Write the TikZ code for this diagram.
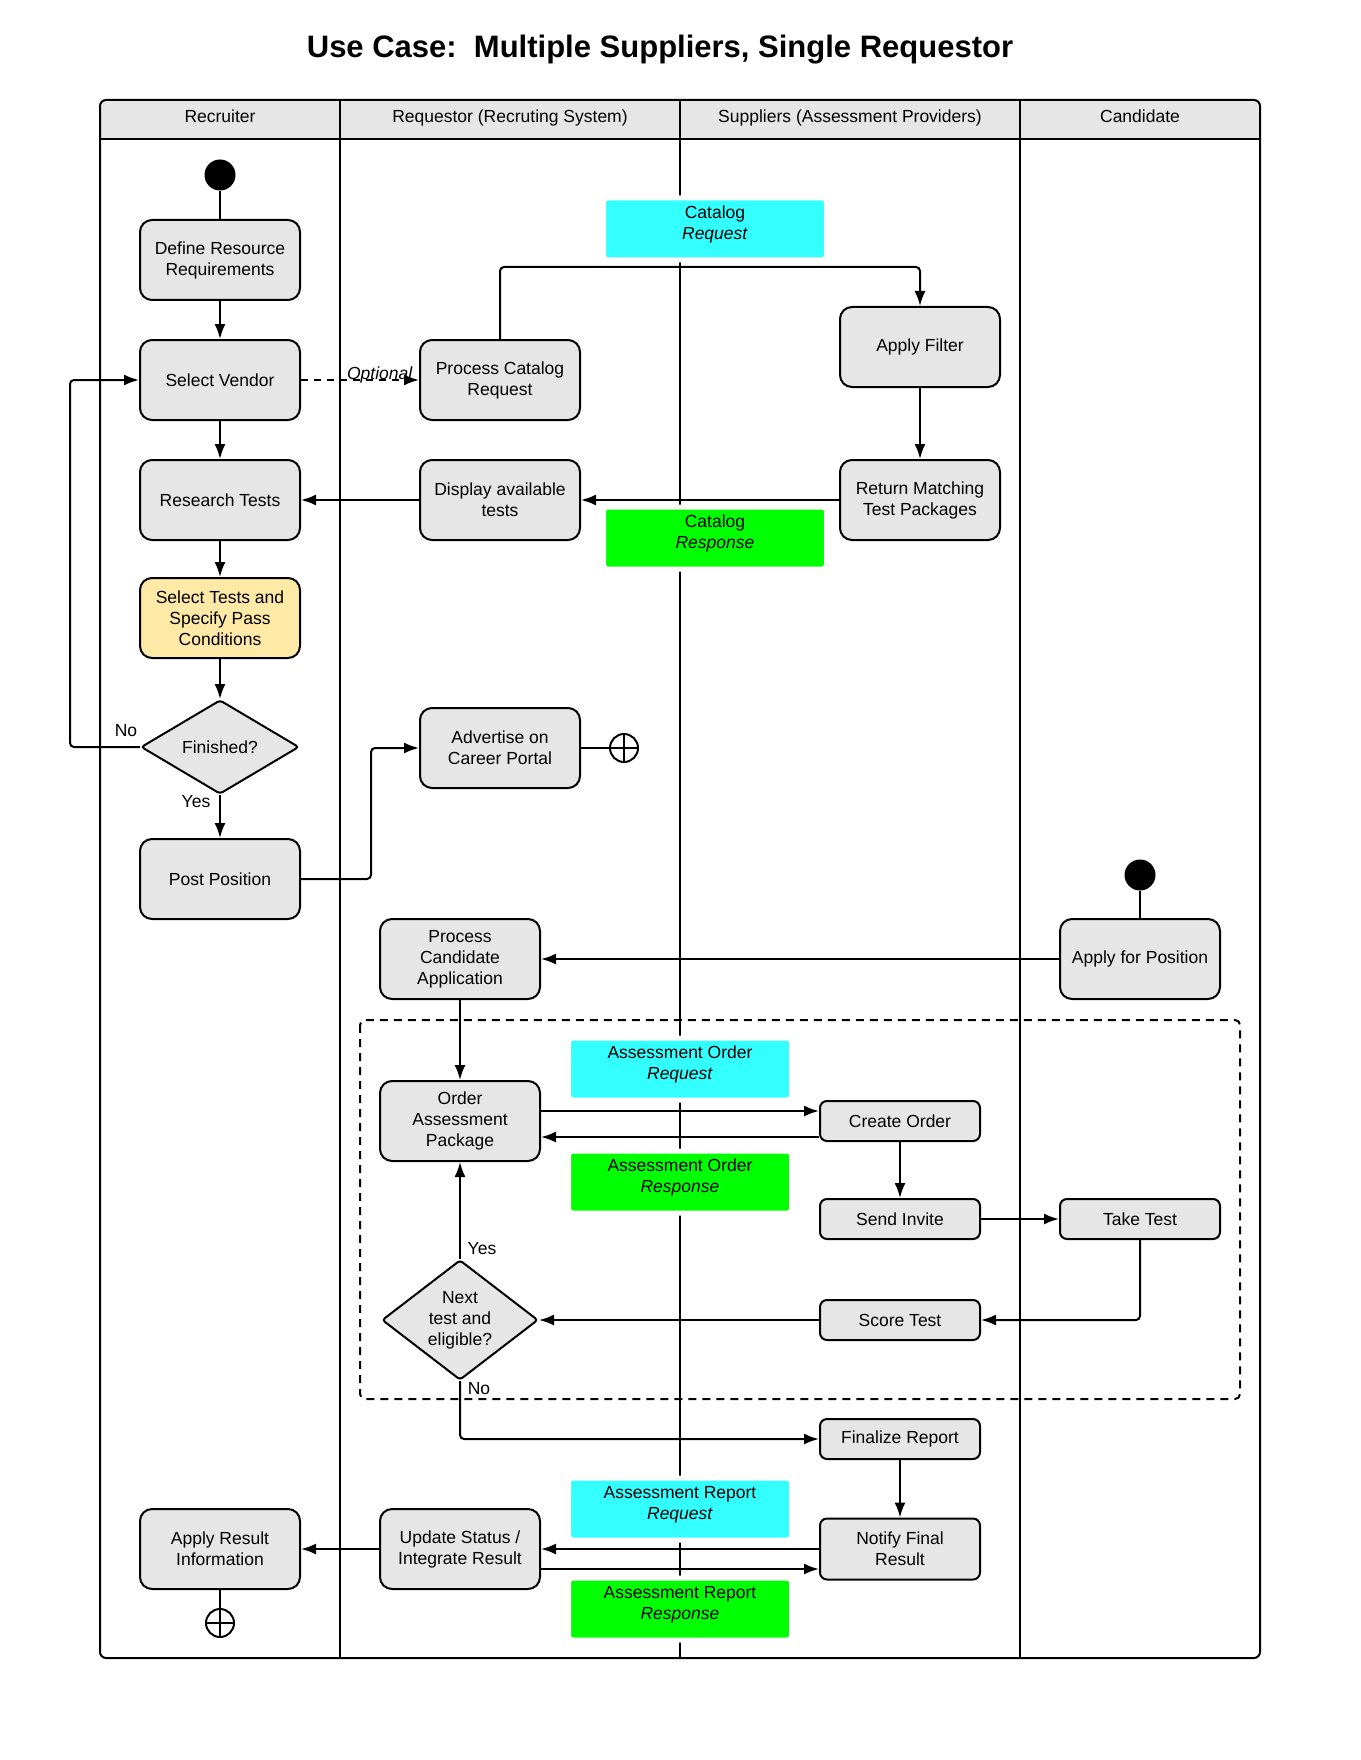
\documentclass[tikz,border=0pt]{standalone}
\usepackage{fontspec}
\setmainfont{Liberation Sans}
\usetikzlibrary{arrows.meta,shapes.geometric,calc}
\definecolor{boxgray}{HTML}{E6E6E6}
\definecolor{yellowbox}{HTML}{FFE9A6}
\definecolor{cyanbox}{HTML}{33FFFF}
\definecolor{greenbox}{HTML}{00FF00}
\newcommand\myfs{\fontsize{17.5pt}{21pt}\selectfont}
\begin{document}
\begin{tikzpicture}[x=1pt,y=-1pt,
  act/.style={rectangle, draw, line width=2pt, rounded corners=12pt, fill=boxgray,
    minimum width=160pt, minimum height=80pt, align=center, inner sep=3pt, font=\myfs},
  sact/.style={act, minimum height=40pt, rounded corners=7pt},
  dec/.style={diamond, draw, line width=2pt, fill=boxgray, align=center, inner sep=0pt,
    font=\myfs, rounded corners=3pt},
  msg/.style={rectangle, draw=white, line width=5pt, rounded corners=4pt,
    minimum width=223pt, minimum height=62pt, align=center, inner sep=2pt, font=\myfs,
    text depth=13pt},
  startdot/.style={circle, fill=black, minimum size=31pt, inner sep=0pt},
  enddot/.style={circle, draw, line width=2pt, fill=white, minimum size=28pt, inner sep=0pt},
  flow/.style={line width=2pt, -{Latex[length=15pt,width=11pt]}},
  conn/.style={line width=2pt},
  lbl/.style={font=\myfs, inner sep=1pt},
  lane/.style={line width=2pt},
  hdr/.style={font=\myfs, anchor=base}
]
\fill[white] (0,0) rectangle (1360,1760);
\useasboundingbox (0,0) rectangle (1360,1760);

% title
\node[font=\fontsize{31pt}{36pt}\selectfont\bfseries] (title) at (660,50)
  {Use Case:\ \ Multiple Suppliers, Single Requestor};

% pool and lanes
\fill[boxgray] (100,139) {[rounded corners=6pt] -- (100,100) -- (1260,100)} -- (1260,139) -- cycle;
\draw[lane, rounded corners=6pt] (100,100) rectangle (1260,1658);
\draw[line width=2.5pt] (100,139) -- (1260,139);
\draw[lane] (340,100) -- (340,1658);
\draw[lane] (680,100) -- (680,1658);
\draw[lane] (1020,100) -- (1020,1658);
\node[hdr] (h1) at (220,123) {Recruiter};
\node[hdr] (h2) at (510,123) {Requestor (Recruting System)};
\node[hdr] (h3) at (850,123) {Suppliers (Assessment Providers)};
\node[hdr] (h4) at (1140,123) {Candidate};

% dashed loop region
\draw[line width=2pt, dash pattern=on 8pt off 6pt, rounded corners=5pt] (360,1020) rectangle (1240,1399);

% message boxes
\node[msg, fill=cyanbox] (creq) at (715,229) {Catalog\\\textit{Request}};
\node[msg, fill=greenbox] (cres) at (715,538) {Catalog\\\textit{Response}};
\node[msg, fill=cyanbox] (aoreq) at (680,1069) {Assessment Order\\\textit{Request}};
\node[msg, fill=greenbox] (aores) at (680,1182) {Assessment Order\\\textit{Response}};
\node[msg, fill=cyanbox] (arreq) at (680,1509) {Assessment Report\\\textit{Request}};
\node[msg, fill=greenbox] (arres) at (680,1609) {Assessment Report\\\textit{Response}};

% recruiter lane
\node[startdot] (s1) at (220,175) {};
\node[act] (drr) at (220,260) {Define Resource\\Requirements};
\node[act] (sv) at (220,380) {Select Vendor};
\node[act] (rt) at (220,500) {Research Tests};
\node[act, fill=yellowbox] (sts) at (220,618) {Select Tests and\\Specify Pass\\Conditions};
\node[dec, aspect=1.7, minimum width=158pt, minimum height=94pt] (fin) at (220,747) {Finished?};
\node[act] (pp) at (220,879) {Post Position};
\node[act] (ari) at (220,1549) {Apply Result\\Information};
\node[enddot] (e1) at (220,1623) {};
\draw[conn] (e1.north) -- (e1.south) (e1.west) -- (e1.east);

% requestor lane
\node[act] (pcr) at (500,380) {Process Catalog\\Request};
\node[act] (dat) at (500,500) {Display available\\tests};
\node[act] (adv) at (500,748) {Advertise on\\Career Portal};
\node[enddot] (e2) at (624,748) {};
\draw[conn] (e2.north) -- (e2.south) (e2.west) -- (e2.east);
\node[act] (pca) at (460,959) {Process\\Candidate\\Application};
\node[act] (oap) at (460,1121) {Order\\Assessment\\Package};
\node[dec, aspect=1.3, minimum width=156pt, minimum height=120pt] (nxt) at (460,1320) {Next\\test and\\eligible?};
\node[act] (usr) at (460,1549) {Update Status /\\Integrate Result};

% suppliers lane
\node[act] (af) at (920,347) {Apply Filter};
\node[act] (rmt) at (920,500) {Return Matching\\Test Packages};
\node[sact] (co) at (900,1121) {Create Order};
\node[sact] (si) at (900,1219) {Send Invite};
\node[sact] (st) at (900,1320) {Score Test};
\node[sact] (fr) at (900,1439) {Finalize Report};
\node[sact, minimum height=61pt] (nfr) at (900,1549) {Notify Final\\Result};

% candidate lane
\node[startdot] (s2) at (1140,875) {};
\node[act] (afp) at (1140,959) {Apply for Position};
\node[sact] (tt) at (1140,1219) {Take Test};

% connectors
\draw[conn] (s1) -- (drr);
\draw[flow] (drr) -- (sv);
\draw[flow] (sv) -- (rt);
\draw[flow] (rt) -- (sts);
\draw[flow] (sts) -- (fin);
\draw[flow] (fin) -- (pp);
\draw[flow, rounded corners=4pt] (fin.west) -- ++(-70,0) |- (sv.west);
\draw[flow, dash pattern=on 7pt off 6pt] (sv) -- (pcr)
  node[pos=0.667, yshift=5pt, font=\myfs\itshape, inner sep=0pt] (opt) {Optional};
\draw[flow, rounded corners=4pt] (pcr.north) -- ++(0,-72) -| (af.north);
\draw[flow] (af) -- (rmt);
\draw[flow] (rmt) -- (dat);
\draw[flow] (dat) -- (rt);
\draw[flow, rounded corners=4pt] (pp.east) -- ++(70,0) |- (adv.west);
\draw[conn] (adv) -- (e2);
\draw[conn] (ari) -- (e1);
\draw[conn] (s2) -- (afp);
\draw[flow] (afp) -- (pca);
\draw[flow] (pca) -- (oap);
\draw[flow] ([yshift=10pt]oap.east) -- ([yshift=10pt]co.west);
\draw[flow] ([yshift=-16pt]co.west) -- ([yshift=-16pt]oap.east);
\draw[flow] (co) -- (si);
\draw[flow] (si) -- (tt);
\draw[flow, rounded corners=4pt] (tt.south) |- (st.east);
\draw[flow] (st) -- (nxt);
\draw[flow] (nxt) -- (oap);
\draw[flow, rounded corners=4pt] (nxt.south) |- (fr.west);
\draw[flow] (fr) -- (nfr);
\draw[flow] (nfr) -- (usr);
\draw[flow] ([yshift=-20pt]usr.east) -- ([yshift=-20pt]nfr.west);
\draw[flow] (usr) -- (ari);

% labels
\node[lbl] (lyes1) at (196,802) {Yes};
\node[lbl] (lno1) at (126,731) {No};
\node[lbl] (lyes2) at (482,1249) {Yes};
\node[lbl] (lno2) at (479,1389) {No};
\end{tikzpicture}
\end{document}
